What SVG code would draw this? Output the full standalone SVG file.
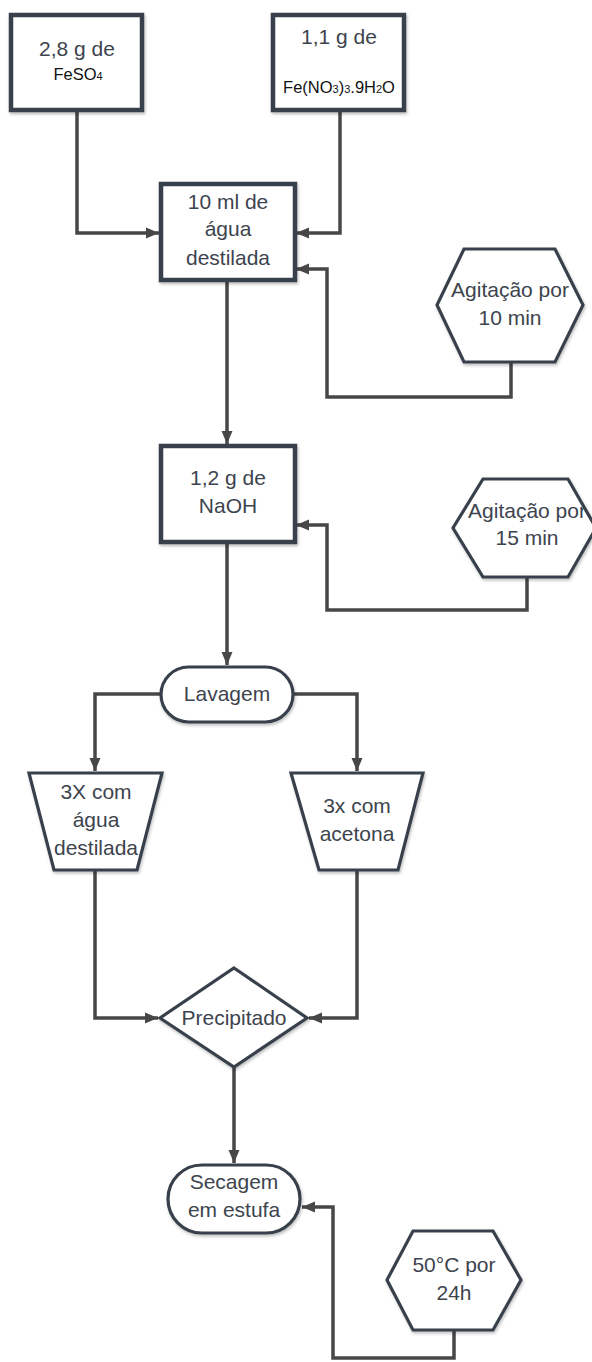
<svg xmlns="http://www.w3.org/2000/svg" width="592" height="1362" viewBox="0 0 592 1362">
<defs>
<filter id="sh" x="-10%" y="-10%" width="130%" height="130%">
<feDropShadow dx="1" dy="2" stdDeviation="1.5" flood-color="#000" flood-opacity="0.25"/>
</filter>
<marker id="ah" markerUnits="userSpaceOnUse" markerWidth="14" markerHeight="14" viewBox="0 0 14 14" refX="13" refY="7" orient="auto">
<path d="M0,1.5 L13,7 L0,12.5 Z" fill="#474747"/>
</marker>
<style>
.box{fill:#fff;stroke:#38414b;stroke-width:4.5;filter:url(#sh)}
.shp{fill:#fff;stroke:#38414b;stroke-width:3.2;filter:url(#sh)}
.t{font-family:"Liberation Sans",Arial,sans-serif;font-size:21px;fill:#3d444e;text-anchor:middle}
.s{font-family:"Liberation Sans",Arial,sans-serif;font-size:16.5px;fill:#111;text-anchor:middle}
.sub{font-size:11px}
.c{fill:none;stroke:#474747;stroke-width:3.5}
</style>
</defs>
<rect width="592" height="1362" fill="#fff"/>
<g id="connectors">
<path class="c" d="M77,112 V233 H159" marker-end="url(#ah)"/>
<path class="c" d="M340,112 V233 H296" marker-end="url(#ah)"/>
<path class="c" d="M511,362 V397 H327 V269 H296" marker-end="url(#ah)"/>
<path class="c" d="M227,282 V444" marker-end="url(#ah)"/>
<path class="c" d="M527,577 V610 H327 V525 H296" marker-end="url(#ah)"/>
<path class="c" d="M227,543 V665" marker-end="url(#ah)"/>
<path class="c" d="M161,694 H95 V771" marker-end="url(#ah)"/>
<path class="c" d="M293,694 H357 V771" marker-end="url(#ah)"/>
<path class="c" d="M95,870 V1018 H158" marker-end="url(#ah)"/>
<path class="c" d="M357,870 V1018 H309" marker-end="url(#ah)"/>
<path class="c" d="M234,1067 V1163" marker-end="url(#ah)"/>
<path class="c" d="M454,1330 V1358 H333 V1207 H302" marker-end="url(#ah)"/>
</g>
<g id="feso4">
<rect class="box" x="11" y="15" width="131" height="95"/>
<text class="t" x="77" y="56">2,8 g de</text>
<text class="s" x="78" y="80">FeSO<tspan class="sub">4</tspan></text>
</g>
<g id="fenitrato">
<rect class="box" x="273" y="15" width="131" height="95"/>
<text class="t" x="339" y="44">1,1 g de</text>
<text class="s" x="339" y="93">Fe(NO<tspan class="sub">3</tspan>)<tspan class="sub">3</tspan>.9H<tspan class="sub">2</tspan>O</text>
</g>
<g id="agua">
<rect class="box" x="161" y="184" width="134" height="96"/>
<text class="t" x="228" y="209">10 ml de</text>
<text class="t" x="228" y="236">água</text>
<text class="t" x="228" y="265">destilada</text>
</g>
<g id="agit10">
<polygon class="shp" points="464,249 555,249 583,305 555,362 464,362 437,305"/>
<text class="t" x="510" y="297">Agitação por</text>
<text class="t" x="510" y="325">10 min</text>
</g>
<g id="naoh">
<rect class="box" x="161" y="446" width="134" height="96"/>
<text class="t" x="228" y="485">1,2 g de</text>
<text class="t" x="228" y="513">NaOH</text>
</g>
<g id="agit15">
<polygon class="shp" points="483,479 568,479 596,528 568,577 483,577 453,528"/>
<text class="t" x="527" y="518">Agitação por</text>
<text class="t" x="527" y="545">15 min</text>
</g>
<g id="lavagem">
<rect class="shp" x="161" y="667" width="132" height="55" rx="27.5"/>
<text class="t" x="227" y="701">Lavagem</text>
</g>
<g id="agua3x">
<polygon class="shp" points="29,773 162,773 137,870 54,870"/>
<text class="t" x="96" y="799">3X com</text>
<text class="t" x="96" y="827">água</text>
<text class="t" x="96" y="855">destilada</text>
</g>
<g id="acetona">
<polygon class="shp" points="291,773 423,773 398,870 319,870"/>
<text class="t" x="357" y="813">3x com</text>
<text class="t" x="357" y="841">acetona</text>
</g>
<g id="precipitado">
<polygon class="shp" points="234,968 307,1018 234,1067 160,1018"/>
<text class="t" x="234" y="1025">Precipitado</text>
</g>
<g id="secagem">
<rect class="shp" x="168" y="1165" width="132" height="68" rx="34"/>
<text class="t" x="234" y="1189">Secagem</text>
<text class="t" x="234" y="1217">em estufa</text>
</g>
<g id="temp">
<polygon class="shp" points="413,1231 493,1231 521,1280 493,1330 413,1330 387,1280"/>
<text class="t" x="454" y="1272">50°C por</text>
<text class="t" x="454" y="1300">24h</text>
</g>
</svg>
